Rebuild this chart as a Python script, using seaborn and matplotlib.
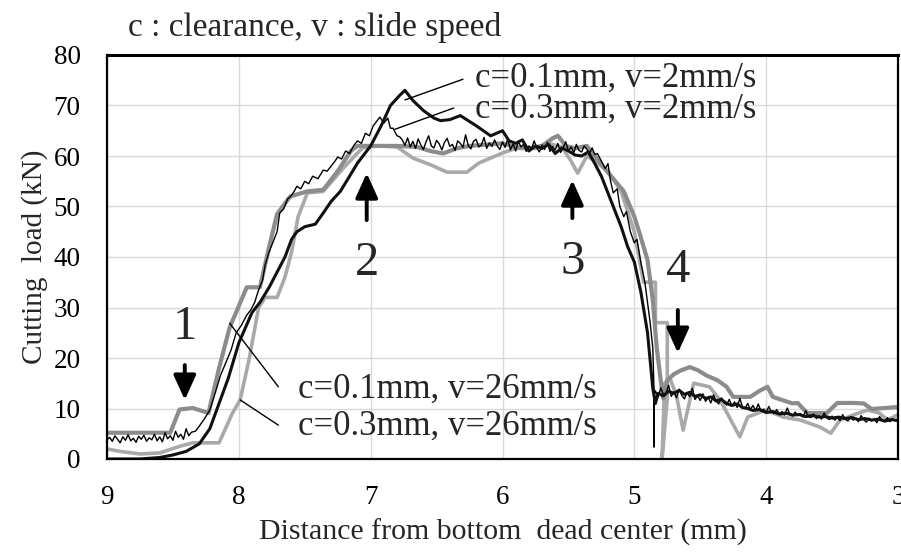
import numpy as np
import pandas as pd
import matplotlib
matplotlib.use("Agg")
import matplotlib.pyplot as plt
import seaborn as sns

# ---------------- data: distance from bottom dead center (mm) vs cutting load (kN)

# c=0.1mm, v=2mm/s
x_c01_v2 = [9.0, 8.75, 8.6, 8.5, 8.4, 8.3, 8.22, 8.15, 8.08, 8.0, 7.9, 7.84, 7.77, 7.71,
            7.65, 7.6, 7.56, 7.5, 7.42, 7.36, 7.3, 7.23, 7.16, 7.1, 7.0, 6.92, 6.85, 6.78,
            6.74, 6.68, 6.6, 6.52, 6.47, 6.4, 6.32, 6.2, 6.09, 6.0, 5.95, 5.9, 5.85, 5.8,
            5.75, 5.7, 5.65, 5.6, 5.55, 5.5, 5.45, 5.4, 5.35, 5.31, 5.25, 5.16, 5.1, 5.05,
            5.0, 4.95, 4.9, 4.86, 4.84, 4.82, 4.78, 4.74, 4.7, 4.66, 4.62, 4.58, 4.54, 4.5,
            4.46, 4.42, 4.38, 4.34, 4.3, 4.26, 4.22, 4.18, 4.14, 4.1, 4.05, 4.0, 3.95, 3.9,
            3.85, 3.8, 3.75, 3.7, 3.65, 3.6, 3.55, 3.5, 3.45, 3.4, 3.35, 3.3, 3.25, 3.2,
            3.15, 3.1, 3.05, 3.0]
y_c01_v2 = [0.0, 0.0, 0.3, 0.8, 1.5, 3.0, 6.0, 11.0, 16.0, 23.0, 29.0, 31.0, 34.0, 37.0,
            40.0, 43.5, 45.0, 46.0, 46.5, 48.7, 51.0, 53.0, 56.0, 58.6, 62.0, 66.0, 70.0, 72.0,
            73.0, 71.0, 69.0, 67.5, 67.0, 67.2, 68.0, 66.0, 64.0, 65.0, 63.0, 62.5, 63.2, 61.0,
            62.0, 61.5, 62.3, 60.5, 61.6, 61.0, 60.2, 60.0, 60.8, 59.0, 56.0, 50.0, 46.0, 42.0,
            39.0, 33.0, 25.0, 14.0, 11.0, 13.0, 12.5, 13.4, 13.0, 13.6, 12.8, 13.2, 12.4, 12.7,
            12.0, 12.3, 11.5, 11.8, 11.0, 10.6, 10.9, 10.2, 10.0, 9.6, 9.8, 9.2, 9.4, 8.9,
            9.1, 8.7, 8.8, 8.4, 8.6, 8.3, 8.4, 8.1, 8.3, 8.0, 8.2, 7.8, 8.0, 7.7,
            7.9, 7.5, 7.8, 7.6]

# c=0.3mm, v=2mm/s  (recorded in segments)
load_c03_v2_start = [3.8, 4.3, 3.5, 4.6, 3.9, 3.2, 4.4, 3.7, 4.8, 3.6, 4.1, 3.3, 4.5, 3.9,
                     4.7, 3.5, 4.2, 3.8, 4.9, 3.6, 4.4, 3.4, 5.2, 4.0, 4.6, 3.7, 5.5, 4.3,
                     4.9, 3.9, 6.0, 4.6, 5.3]
x_c03_v2_rise = [8.33, 8.3, 8.26, 8.22, 8.18, 8.14, 8.1, 8.06, 8.02, 7.98, 7.94, 7.91, 7.88,
                 7.85, 7.82, 7.8, 7.77, 7.74, 7.71, 7.69, 7.66, 7.63, 7.61, 7.58, 7.56, 7.53,
                 7.5, 7.47, 7.44, 7.4, 7.36, 7.33, 7.3, 7.27, 7.25, 7.22, 7.19, 7.16, 7.13,
                 7.1, 7.07, 7.04, 7.01, 6.98, 6.95, 6.93, 6.9, 6.87, 6.85, 6.83, 6.8, 6.78]
y_c03_v2_rise = [5.5, 6.5, 8.0, 9.7, 13.0, 16.5, 19.0, 21.5, 25.0, 26.5, 28.5, 29.5, 31.0,
                 33.5, 35.4, 38.5, 41.0, 43.0, 45.0, 48.7, 49.5, 51.5, 51.9, 53.0, 54.0, 53.5,
                 55.0, 54.5, 56.0, 55.5, 57.2, 57.0, 58.0, 59.0, 59.8, 59.4, 61.0, 60.5, 62.0,
                 63.0, 62.5, 64.5, 64.0, 66.0, 67.0, 67.7, 66.5, 67.5, 65.5, 65.5, 64.0, 63.8]
load_c03_v2_plateau = [63.2, 62.1, 63.6, 61.8, 62.9, 61.5, 63.4, 62.2, 61.3, 62.8, 64.0, 62.0,
                       61.6, 63.1, 62.4, 61.2, 62.7, 63.5, 61.9, 62.3, 61.1, 63.0, 62.5, 61.7,
                       64.2, 62.1, 61.4, 62.9, 63.3, 61.8, 62.2, 63.7, 61.5, 62.6, 61.9, 63.2,
                       62.0, 61.3, 62.8, 61.7, 63.4, 61.2, 62.4, 61.0, 62.9, 61.8, 62.3, 60.9,
                       62.0, 61.4, 63.0, 61.6, 60.8, 62.2, 61.3, 62.7, 60.9, 61.9, 61.2, 62.5,
                       60.7, 61.6, 62.8, 61.0, 61.8, 60.6, 62.3, 61.1, 60.8, 62.0, 61.3, 60.5,
                       61.6, 60.3]
x_c03_v2_drop = [5.28, 5.25, 5.22, 5.2, 5.18, 5.16, 5.13, 5.11, 5.08, 5.06, 5.03, 5.0, 4.98,
                 4.95, 4.92, 4.9, 4.88, 4.86, 4.85, 4.85, 4.85]
y_c03_v2_drop = [60.5, 59.0, 57.5, 58.5, 55.0, 52.7, 53.5, 50.0, 48.0, 49.0, 45.0, 42.8, 43.5,
                 38.8, 35.0, 31.0, 27.0, 22.0, 13.0, 2.4, 12.5]
load_c03_v2_tail = [13.5, 12.2, 14.1, 12.8, 13.0, 14.6, 12.4, 13.3, 12.1, 13.8, 12.6, 11.9,
                    13.2, 12.3, 14.0, 11.8, 12.5, 11.6, 12.9, 11.4, 12.2, 11.1, 12.7, 11.5,
                    10.9, 12.1, 11.2, 10.7, 11.8, 10.5, 11.3, 10.2, 12.0, 10.4, 10.0, 11.0,
                    9.8, 10.6, 9.6, 10.9, 9.5, 9.9, 9.2, 10.4, 9.3, 9.0, 9.8, 8.9, 9.4, 8.7,
                    10.1, 8.8, 8.5, 9.3, 8.6, 9.0, 8.3, 9.6, 8.4, 8.2, 8.9, 8.0, 8.6, 7.9,
                    9.1, 8.1, 7.8, 8.5, 7.7, 8.2, 7.6, 8.8, 7.9, 7.5, 8.3, 7.7, 8.0, 7.4, 8.6,
                    7.8, 7.3, 8.1, 7.6, 7.9, 7.2, 8.4, 7.7, 7.5, 8.2, 7.4, 7.9, 7.6, 8.0]

# c=0.1mm, v=26mm/s
x_c01_v26 = [9.0, 8.52, 8.45, 8.35, 8.23, 8.15, 8.07, 7.94, 7.84, 7.77, 7.71, 7.61, 7.48,
             7.36, 7.25, 7.15, 7.1, 6.95, 6.8, 6.65, 6.55, 6.45, 6.35, 6.25, 6.1, 6.0, 5.9,
             5.8, 5.7, 5.62, 5.58, 5.52, 5.45, 5.36, 5.3, 5.24, 5.16, 5.08, 5.0, 4.96, 4.9,
             4.86, 4.83, 4.8, 4.78, 4.75, 4.7, 4.65, 4.58, 4.52, 4.45, 4.37, 4.3, 4.25, 4.12,
             4.05, 3.99, 3.95, 3.8, 3.76, 3.69, 3.54, 3.46, 3.34, 3.26, 3.2, 3.0]
y_c01_v26 = [5.2, 5.2, 9.8, 10.1, 9.1, 18.0, 26.0, 34.0, 34.0, 42.0, 48.5, 52.0, 53.0,
             53.3, 57.0, 61.0, 62.0, 62.0, 62.0, 61.8, 61.0, 60.5, 61.5, 62.0, 62.3, 62.5, 61.8,
             61.5, 62.0, 63.5, 64.0, 62.0, 61.5, 62.0, 60.0, 58.0, 55.5, 53.0, 48.0, 44.7, 39.4,
             31.5, 22.0, 15.6, 12.0, 15.6, 16.8, 17.5, 18.2, 17.6, 16.5, 15.6, 14.3, 12.3, 12.3,
             13.5, 14.3, 12.3, 11.0, 11.1, 9.1, 9.1, 11.1, 11.1, 11.0, 9.9, 10.3]

# c=0.3mm, v=26mm/s
x_c03_v26 = [9.0, 8.9, 8.75, 8.6, 8.45, 8.35, 8.15, 8.05, 7.99, 7.92, 7.85, 7.8, 7.71, 7.65,
             7.6, 7.55, 7.48, 7.36, 7.2, 7.1, 7.06, 6.95, 6.8, 6.68, 6.55, 6.42, 6.27, 6.18,
             6.0, 5.9, 5.75, 5.65, 5.55, 5.48, 5.43, 5.36, 5.3, 5.2, 5.1, 5.0, 4.93, 4.84,
             4.84, 4.75, 4.75, 4.79, 4.77, 4.73, 4.68, 4.63, 4.55, 4.43, 4.35, 4.28, 4.2,
             4.14, 4.0, 3.87, 3.74, 3.59, 3.51, 3.44, 3.3, 3.23, 3.14, 3.08, 3.0]
y_c03_v26 = [2.0, 1.5, 1.0, 1.2, 2.5, 3.2, 3.2, 9.0, 11.7, 20.0, 30.0, 32.0, 32.0, 36.0,
             41.0, 48.0, 52.7, 53.0, 57.8, 60.6, 61.6, 62.0, 61.8, 59.6, 58.3, 56.8, 56.8, 58.6,
             60.6, 61.5, 61.5, 62.5, 61.8, 59.0, 56.6, 60.0, 59.0, 57.0, 53.0, 45.0, 35.0, 35.0,
             27.0, 27.0, 12.0, 0.0, 15.0, 16.0, 12.5, 5.7, 15.0, 14.3, 11.7, 8.3, 4.4,
             8.3, 9.7, 8.3, 7.7, 6.3, 5.1, 7.7, 9.1, 9.7, 9.1, 7.7, 8.8]

x_ticks = [9, 8, 7, 6, 5, 4, 3]
y_ticks = [0, 10, 20, 30, 40, 50, 60, 70, 80]


def segment(start, stop, values):
    """Evenly spaced distance samples for a densely recorded stretch."""
    return list(np.linspace(start, stop, len(values))), list(values)


xs, ys = segment(9.0, 8.36, load_c03_v2_start)
x_c03_v2, y_c03_v2 = list(xs), list(ys)
x_c03_v2 += x_c03_v2_rise
y_c03_v2 += y_c03_v2_rise
xs, ys = segment(6.76, 5.30, load_c03_v2_plateau)
x_c03_v2 += xs
y_c03_v2 += ys
x_c03_v2 += x_c03_v2_drop
y_c03_v2 += y_c03_v2_drop
xs, ys = segment(4.84, 3.0, load_c03_v2_tail)
x_c03_v2 += xs
y_c03_v2 += ys

# ---------------- styling
sns.set_theme(style="white")
plt.rcParams["font.family"] = ["Liberation Serif", "DejaVu Serif"]

fig = plt.figure(figsize=(9.01, 5.59), dpi=100)
ax = fig.add_axes([107 / 901, 1 - 459 / 559, (898 - 107) / 901, (459 - 55) / 559])

series = [
    (x_c03_v26, y_c03_v26, "#a9a9a9", 2.6),
    (x_c01_v26, y_c01_v26, "#8c8c8c", 3.0),
    (x_c03_v2, y_c03_v2, "#000000", 1.0),
    (x_c01_v2, y_c01_v2, "#111111", 2.2),
]
for xv, yv, col, lw in series:
    df = pd.DataFrame({"dist": xv, "load": yv})
    sns.lineplot(data=df, x="dist", y="load", sort=False, estimator=None,
                 color=col, lw=lw, ax=ax, legend=False)

ax.set_xlim(9, 3)
ax.set_ylim(0, 80)
ax.set_xticks(x_ticks)
ax.set_yticks(y_ticks)
ax.set_xticklabels([str(t) for t in x_ticks])
ax.set_yticklabels([str(t) for t in y_ticks])
ax.grid(True, color="#d9d9d9", lw=1.0)
ax.set_axisbelow(True)
ax.tick_params(axis="both", length=0, labelsize=19.5, colors="black")
ax.tick_params(axis="y", pad=19)
ax.tick_params(axis="x", pad=19)
for side in ["left", "bottom", "right"]:
    ax.spines[side].set_color("black")
    ax.spines[side].set_linewidth(1.6)
ax.spines["top"].set_color("black")
ax.spines["top"].set_linewidth(2.2)

ax.set_xlabel("Distance from bottom  dead center (mm)", fontsize=21.5, labelpad=6)
ax.set_ylabel("Cutting  load (kN)", fontsize=21, labelpad=4)

fig.text(128 / 901, 1 - 36 / 559, "c : clearance, v : slide speed", fontsize=24,
         ha="left", va="baseline")

# series labels with leader lines
ann_size = 25
ax.text(6.21, 75.4, "c=0.1mm, v=2mm/s", fontsize=ann_size, ha="left", va="center")
ax.text(6.21, 69.3, "c=0.3mm, v=2mm/s", fontsize=ann_size, ha="left", va="center")
ax.text(7.55, 13.9, "c=0.1mm, v=26mm/s", fontsize=ann_size, ha="left", va="center")
ax.text(7.55, 6.4, "c=0.3mm, v=26mm/s", fontsize=ann_size, ha="left", va="center")
ax.plot([6.30, 6.74], [75.2, 71.1], color="black", lw=1.0)
ax.plot([6.37, 6.815], [69.5, 65.3], color="black", lw=1.0)
ax.plot([8.07, 7.70], [26.9, 14.3], color="black", lw=1.0)
ax.plot([7.99, 7.70], [11.7, 6.7], color="black", lw=1.0)

# stage markers
stages = [("1", 8.41, 26.1, 18.6, 11.7),
          ("2", 7.03, 38.8, 47.3, 56.6),
          ("3", 5.47, 39.0, 47.7, 55.2),
          ("4", 4.67, 37.4, 29.5, 21.0)]
for lab, xs_, ylab, y_from, y_to in stages:
    ax.text(xs_, ylab, lab, fontsize=35, ha="center", va="center")
    ax.annotate("", xy=(xs_, y_to), xytext=(xs_, y_from),
                arrowprops=dict(arrowstyle="-|>,head_length=0.75,head_width=0.34",
                                lw=2.8, color="black", mutation_scale=20,
                                shrinkA=0, shrinkB=0))

fig.savefig("out.png", dpi=100)
